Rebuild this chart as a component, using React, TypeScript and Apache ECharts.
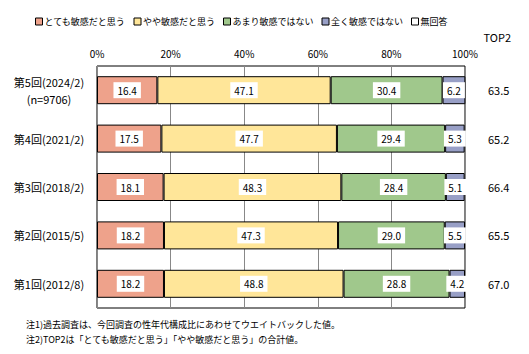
import React, { useEffect, useRef } from "react";
import * as echarts from "echarts";

const categories = ["第5回(2024/2)\n(n=9706)", "第4回(2021/2)", "第3回(2018/2)", "第2回(2015/5)", "第1回(2012/8)"];
const seriesNames = ["とても敏感だと思う", "やや敏感だと思う", "あまり敏感ではない", "全く敏感ではない", "無回答"];
const veryValues = [16.4, 17.5, 18.1, 18.2, 18.2];
const somewhatValues = [47.1, 47.7, 48.3, 47.3, 48.8];
const notMuchValues = [30.4, 29.4, 28.4, 29.0, 28.8];
const notAtAllValues = [6.2, 5.3, 5.1, 5.5, 4.2];
const noAnswerValues = [0, 0, 0, 0, 0];
const top2Values = [63.5, 65.2, 66.4, 65.5, 67.0];
const xTicks = [0, 20, 40, 60, 80, 100];
const notes = [
  "注1)過去調査は、今回調査の性年代構成比にあわせてウエイトバックした値。",
  "注2)TOP2は「とても敏感だと思う」「やや敏感だと思う」の合計値。",
];

const colors = ["#EEA28B", "#FFE699", "#A0C88C", "#989FC6", "#FFFFFF"];
const FONT = "'Noto Sans CJK JP', 'Noto Sans', sans-serif";

export default function App() {
  const ref = useRef<HTMLDivElement>(null);
  useEffect(() => {
    const chart = echarts.init(ref.current!, null, { renderer: "svg" });
    const allData = [veryValues, somewhatValues, notMuchValues, notAtAllValues, noAnswerValues];
    const series = allData.map((d, i) => ({
      name: seriesNames[i],
      type: "bar",
      stack: "total",
      barWidth: 28,
      data: d,
      itemStyle: { color: colors[i], borderColor: "#000", borderWidth: i < 4 ? 1 : 0 },
      label: {
        show: i < 4,
        position: "inside",
        formatter: (p: any) => Number(p.value).toFixed(1),
        color: "#000",
        fontSize: 10,
        fontFamily: FONT,
        backgroundColor: "#fff",
        padding: [3, 4],
      },
      emphasis: { disabled: true },
    }));
    chart.setOption({
      animation: false,
      textStyle: { fontFamily: FONT },
      legend: {
        top: 12,
        left: 30,
        itemWidth: 7,
        itemHeight: 7,
        itemGap: 8,
        icon: "rect",
        textStyle: { fontSize: 9, color: "#000", fontFamily: FONT, padding: [0, 0, 0, -3] },
        data: seriesNames.map((n) => ({ name: n, itemStyle: { borderColor: "#000", borderWidth: 1 } })),
      },
      grid: {
        left: 97,
        right: 64,
        top: 66,
        bottom: 46,
        show: true,
        borderColor: "#000",
        borderWidth: 1,
        containLabel: false,
      },
      xAxis: {
        type: "value",
        position: "top",
        min: xTicks[0],
        max: xTicks[xTicks.length - 1],
        interval: 20,
        axisLabel: { formatter: "{value}%", fontSize: 10, color: "#000", margin: 8, fontFamily: FONT },
        axisLine: { show: false },
        axisTick: { show: false },
        splitLine: { show: true, lineStyle: { color: "#888", width: 1 } },
      },
      yAxis: [
        {
          type: "category",
          inverse: true,
          data: categories,
          axisLabel: { fontSize: 11, color: "#000", margin: 48, align: "center", lineHeight: 17, fontFamily: FONT },
          axisLine: { show: false },
          axisTick: { show: false },
        },
        {
          type: "category",
          inverse: true,
          position: "right",
          data: top2Values.map((v) => v.toFixed(1)),
          axisLabel: { fontSize: 11, color: "#000", margin: 23, fontFamily: FONT },
          axisLine: { show: false },
          axisTick: { show: false },
        },
      ],
      graphic: [
        { type: "text", right: 18, top: 31, style: { text: "TOP2", fontSize: 11, fill: "#000", fontFamily: FONT } },
        { type: "text", left: 26, top: 320, style: { text: notes[0], fontSize: 9, fill: "#000", fontFamily: FONT } },
        { type: "text", left: 26, top: 335, style: { text: notes[1], fontSize: 9, fill: "#000", fontFamily: FONT } },
      ],
      series,
    });
    return () => chart.dispose();
  }, []);
  return <div ref={ref} style={{ position: "fixed", left: 0, top: 0, width: 529, height: 354, background: "#fff" }} />;
}
